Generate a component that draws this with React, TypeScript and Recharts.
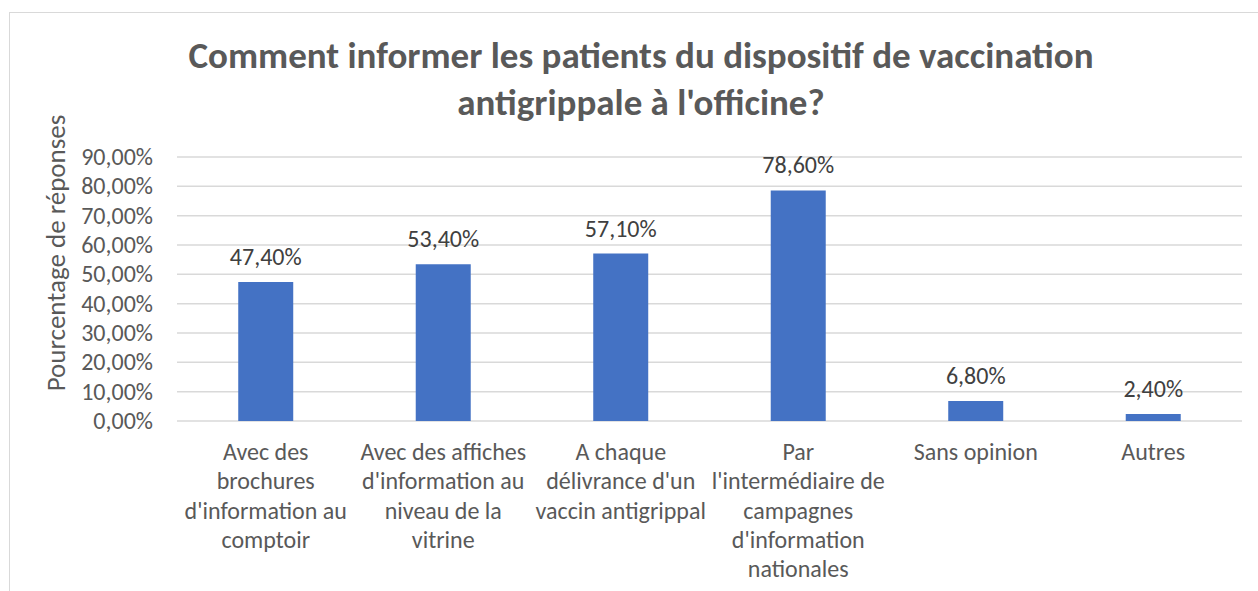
import React from 'react';
import { BarChart, Bar, XAxis, YAxis, CartesianGrid, LabelList } from 'recharts';

const categories: string[] = [
  "Avec des\nbrochures\nd'information au\ncomptoir",
  "Avec des affiches\nd'information au\nniveau de la\nvitrine",
  "A chaque\ndélivrance d'un\nvaccin antigrippal",
  "Par\nl'intermédiaire de\ncampagnes\nd'information\nnationales",
  'Sans opinion',
  'Autres',
];
const values: number[] = [47.4, 53.4, 57.1, 78.6, 6.8, 2.4];
const yTicks: number[] = [0, 10, 20, 30, 40, 50, 60, 70, 80, 90];
const titleLines: string[] = [
  'Comment informer les patients du dispositif de vaccination',
  "antigrippale à l'officine?",
];
const yAxisTitle = 'Pourcentage de réponses';

const data = categories.map((c, i) => ({ name: c, value: values[i] }));

const FONT = 'Carlito, Calibri, Lato, sans-serif';
const FS = 24;
const fmt = (v: number) => v.toFixed(2).replace('.', ',') + '%';

const XTick = (props: any) => {
  const { x, y, payload } = props;
  const lines = String(payload.value).split('\n');
  return (
    <text x={x} y={y} textAnchor="middle" fill="#595959" fontSize={FS} fontFamily={FONT}>
      {lines.map((l, i) => (
        <tspan key={i} x={x} y={y + 39 + i * 29.3}>{l}</tspan>
      ))}
    </text>
  );
};

const YTick = (props: any) => {
  const { x, y, payload } = props;
  return (
    <text x={x} y={y + 8} textAnchor="end" fill="#595959" fontSize={FS} fontFamily={FONT}>
      {fmt(payload.value)}
    </text>
  );
};

const BarLabel = (props: any) => {
  const { x, y, width, value } = props;
  return (
    <text x={x + width / 2} y={y - 17} textAnchor="middle" fill="#404040" fontSize={FS} fontFamily={FONT}>
      {fmt(value)}
    </text>
  );
};

export default function App() {
  return (
    <div style={{ position: 'fixed', left: 0, top: 0, width: 1258, height: 591, background: '#fff', overflow: 'hidden' }}>
      <div style={{ position: 'absolute', left: 9, top: 12, width: 1300, height: 650, border: '1.5px solid #d9d9d9', boxSizing: 'border-box' }} />
      <svg width={1258} height={591} style={{ position: 'absolute', left: 0, top: 0 }}>
        {titleLines.map((t, i) => (
          <text key={i} x={641} y={68 + i * 47} textAnchor="middle" fill="#595959" fontSize={37} fontWeight="bold" fontFamily={FONT}>
            {t}
          </text>
        ))}
        <text
          x={55}
          y={253}
          transform="rotate(-90 55 253)"
          textAnchor="middle"
          dominantBaseline="central"
          fill="#595959"
          fontSize={27}
          fontFamily={FONT}
        >
          {yAxisTitle}
        </text>
      </svg>
      <div style={{ position: 'absolute', left: 0, top: 0 }}>
        <BarChart
          width={1258}
          height={591}
          data={data}
          margin={{ top: 157, right: 16, bottom: 30, left: 77 }}
          barCategoryGap="34.5%"
        >
          <CartesianGrid vertical={false} stroke="#d9d9d9" strokeWidth={1.5} />
          <XAxis
            dataKey="name"
            axisLine={false}
            tickLine={false}
            tickSize={0}
            tickMargin={0}
            height={140}
            interval={0}
            tick={<XTick />}
          />
          <YAxis
            width={100}
            domain={[0, 90]}
            ticks={yTicks}
            interval={0}
            axisLine={false}
            tickLine={false}
            tickSize={0}
            tickMargin={24}
            tick={<YTick />}
          />
          <Bar dataKey="value" fill="#4472c4" isAnimationActive={false}>
            <LabelList dataKey="value" content={<BarLabel />} />
          </Bar>
        </BarChart>
      </div>
    </div>
  );
}
